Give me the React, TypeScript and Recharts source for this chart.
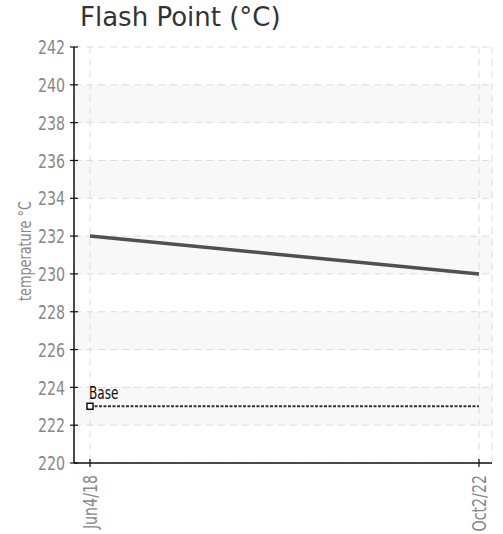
import React from "react";
import { LineChart, Line, XAxis, YAxis, CartesianGrid } from "recharts";

const dates = ["Jun4/18", "Oct2/22"];
const flashPoint = [232, 230];
const baseValues = [223, 223];
const yTicks = [220, 222, 224, 226, 228, 230, 232, 234, 236, 238, 240, 242];

const data = dates.map((d, i) => ({ date: d, value: flashPoint[i], base: baseValues[i] }));

const narrow = "'DejaVu Sans Condensed', 'DejaVu Sans', sans-serif";
const squeeze = 0.79;

const XTick = (props: any) => {
  const { x, payload } = props;
  return (
    <g>
      <line x1={x} x2={x} y1={459} y2={467} stroke="#111" strokeWidth={1.2} />
      <g transform={`translate(${x},475)`}>
        <text
          x={0}
          y={0}
          dy={7}
          textAnchor="end"
          transform={`rotate(-90) scale(${squeeze},1)`}
          fill="#888"
          fontSize={20}
          fontFamily={narrow}
          fontStretch="condensed"
        >
          {payload.value}
        </text>
      </g>
    </g>
  );
};

const YTick = (props: any) => {
  const { x, y, payload } = props;
  const axisX = x + 9;
  return (
    <g>
      <line x1={axisX - 4} x2={axisX + 4} y1={y} y2={y} stroke="#111" strokeWidth={1.2} />
      <g transform={`translate(${axisX - 9},${y}) scale(${squeeze},1)`}>
        <text
          x={0}
          y={0}
          dy="0.36em"
          textAnchor="end"
          fill="#888"
          fontSize={20}
          fontFamily={narrow}
          fontStretch="condensed"
        >
          {payload.value}
        </text>
      </g>
    </g>
  );
};

const YLabel = (props: any) => {
  const { viewBox } = props;
  const cy = viewBox.y + viewBox.height / 2 - 4;
  return (
    <g transform={`translate(31,${cy}) rotate(-90) scale(${squeeze},1)`}>
      <text x={0} y={0} textAnchor="middle" fill="#888" fontSize={18} fontFamily={narrow} fontStretch="condensed">
        temperature °C
      </text>
    </g>
  );
};

const BaseDot = (props: any) => {
  const { cx, cy, index } = props;
  if (index !== 0) return <g key={index} />;
  return (
    <g key={index}>
      <rect x={cx - 3} y={cy - 3} width={6} height={6} fill="#fff" stroke="#111" strokeWidth={1.5} />
      <g transform={`translate(${cx - 1},${cy - 7}) scale(${squeeze},1)`}>
        <text x={0} y={0} fill="#111" fontSize={17} fontFamily={narrow} fontStretch="condensed">
          Base
        </text>
      </g>
    </g>
  );
};

const App = () => {
  return (
    <div style={{ position: "absolute", left: 0, top: 0, width: 503, height: 534, background: "#fff" }}>
      <div
        style={{
          position: "absolute",
          left: 80,
          top: 1,
          fontFamily: "'DejaVu Sans', sans-serif",
          fontSize: 26,
          color: "#333",
          lineHeight: "32px",
        }}
      >
        Flash Point (°C)
      </div>
      <div style={{ position: "absolute", left: 0, top: 0 }}>
        <LineChart width={503} height={534} data={data} margin={{ top: 47, right: 11, bottom: 0, left: 20 }}>
          <CartesianGrid
            stroke="#dcdcdc"
            strokeDasharray="7 5"
            horizontalFill={["#ffffff", "#f8f8f8"]}
          />
          <XAxis
            dataKey="date"
            height={71}
            padding={{ left: 16, right: 13 }}
            stroke="#111"
            strokeWidth={1.5}
            tickLine={false}
            tickSize={4}
            tick={<XTick />}
            interval={0}
          />
          <YAxis
            width={54}
            domain={[220, 242]}
            ticks={yTicks}
            stroke="#111"
            strokeWidth={1.5}
            tickLine={false}
            tickSize={4}
            tickMargin={5}
            tick={<YTick />}
            label={<YLabel />}
          />
          <Line
            dataKey="value"
            stroke="#505050"
            strokeWidth={3.5}
            dot={false}
            isAnimationActive={false}
          />
          <Line
            dataKey="base"
            stroke="#333"
            strokeWidth={2}
            strokeDasharray="3 1.5"
            dot={<BaseDot />}
            isAnimationActive={false}
          />
        </LineChart>
      </div>
    </div>
  );
};

export default App;
